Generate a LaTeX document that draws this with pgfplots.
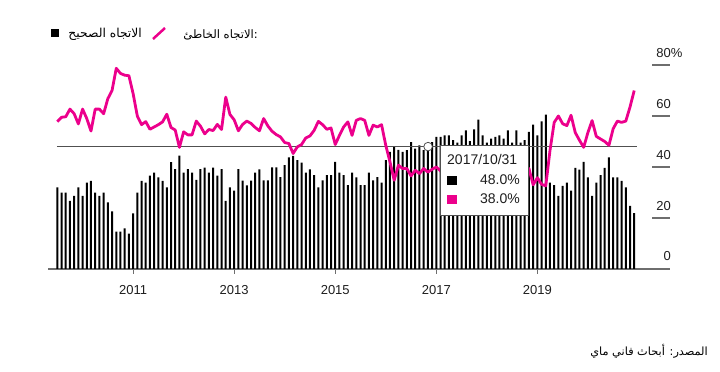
\documentclass[border=0pt]{standalone}
\usepackage{fontspec}
\setmainfont{Liberation Sans}
\newfontfamily\arabicfont[Script=Arabic]{DejaVu Sans}
\usepackage{pgfplots}
\pgfplotsset{compat=1.18}
\usepackage{pgfplotstable}
\TeXXeTstate=1
\definecolor{pinkc}{RGB}{236,0,140}
\definecolor{lgray}{RGB}{110,110,110}
\definecolor{cgray}{RGB}{80,80,80}
\definecolor{txt}{RGB}{30,30,30}

\pgfplotstableread{
i b p
0 32.0 57.8
1 30.0 59.5
2 30.0 59.7
3 26.7 62.7
4 28.7 60.9
5 32.0 56.9
6 28.7 62.7
7 33.9 59.0
8 34.6 54.1
9 30.0 62.7
10 28.7 62.7
11 30.0 60.9
12 26.1 66.8
13 22.6 70.0
14 14.7 78.7
15 14.7 76.7
16 15.9 76.0
17 13.9 75.8
18 21.8 68.8
19 30.0 60.0
20 34.6 56.6
21 33.9 57.8
22 36.6 54.8
23 37.8 55.7
24 35.9 56.6
25 34.6 57.7
26 32.0 60.7
27 41.9 55.5
28 39.2 54.5
29 44.5 47.7
30 37.8 53.8
31 39.2 52.6
32 37.8 52.6
33 35.0 58.0
34 39.2 56.0
35 39.8 53.0
36 37.8 54.7
37 39.8 54.3
38 36.6 56.7
39 39.2 54.7
40 26.7 67.4
41 32.0 60.6
42 30.7 58.5
43 39.2 54.2
44 34.7 56.7
45 32.8 58.0
46 34.7 57.1
47 37.8 55.5
48 39.1 54.2
49 34.8 59.0
50 34.8 56.1
51 39.9 54.0
52 39.9 52.7
53 36.0 51.8
54 40.7 49.6
55 43.8 49.2
56 44.4 45.3
57 42.7 47.9
58 41.7 48.8
59 37.8 51.4
60 39.1 52.2
61 36.8 54.4
62 32.0 57.9
63 34.8 56.6
64 36.8 54.8
65 36.8 55.3
66 42.0 48.8
67 37.8 52.4
68 36.8 55.7
69 32.9 57.7
70 37.8 52.4
71 35.9 58.3
72 32.9 59.0
73 32.9 58.3
74 37.8 52.4
75 34.8 56.4
76 36.0 55.7
77 33.9 56.6
78 42.7 48.5
79 45.9 42.0
80 47.8 34.8
81 46.7 40.7
82 45.9 39.4
83 46.6 39.4
84 49.8 36.5
85 47.2 38.7
86 48.5 37.4
87 46.6 39.4
88 48.0 38.0
89 49.8 39.1
90 51.8 40.0
91 51.8 38.5
92 52.4 37.0
93 52.4 39.5
94 50.5 38.0
95 49.6 36.5
96 52.4 38.5
97 54.4 40.0
98 50.1 37.5
99 54.8 36.0
100 58.6 38.0
101 52.4 39.0
102 49.6 37.0
103 51.1 35.5
104 51.8 37.5
105 52.4 38.5
106 51.1 36.0
107 54.4 34.5
108 49.6 36.5
109 54.4 38.0
110 49.6 37.0
111 50.5 38.5
112 53.8 39.4
113 56.6 33.0
114 52.4 35.8
115 57.9 33.2
116 60.5 32.6
117 33.9 46.5
118 32.9 57.5
119 28.7 60.0
120 32.6 57.0
121 33.9 56.2
122 30.7 60.3
123 39.7 53.5
124 39.0 50.5
125 42.0 47.7
126 35.9 53.5
127 28.7 58.2
128 33.9 52.0
129 36.8 51.0
130 39.7 50.0
131 43.8 48.5
132 35.9 55.0
133 35.9 58.0
134 34.6 57.5
135 32.0 58.0
136 24.8 63.5
137 21.9 70.0
}\data

\begin{document}
\begin{tikzpicture}[x=1pt,y=1pt]
\path[use as bounding box, fill=white] (0,0) rectangle (720,372);
\begin{axis}[
  at={(48pt,103pt)}, anchor=south west,
  scale only axis, width=622pt, height=204pt,
  xmin=-2.21, xmax=145.5, ymin=0, ymax=80,
  enlargelimits=false, clip=false,
  axis line style={draw=none},
  tick style={draw=none},
  xtick={18,42,66,90,114},
  xticklabels={2011,2013,2015,2017,2019},
  ytick={0,20,40,60,80},
  yticklabels={0,20,40,60,{80\rlap{\%}}},
  ytick pos=right, yticklabel pos=right,
  xtick pos=bottom,
  /pgf/number format/assume math mode=true,
  xticklabel style={anchor=base, inner sep=0pt, yshift=-26pt, font=\fontsize{13}{15}\selectfont, text=txt},
  yticklabel style={anchor=base east, inner sep=0pt, xshift=1pt, yshift=8pt, font=\fontsize{13}{15}\selectfont, text=txt},
]
\draw[lgray, line width=1.2pt] (axis cs:-2.21,0) -- (axis cs:145.5,0);
\pgfplotsinvokeforeach{20,40,60,80}{
  \draw[lgray, line width=1.2pt] (axis cs:141.3,#1) -- (axis cs:145.5,#1);
}
\pgfplotsinvokeforeach{18,42,66,90,114}{
  \draw[lgray, line width=0.8pt] (axis cs:#1,0) -- (axis cs:#1,-2);
}
\addplot[ybar, bar width=2.0pt, fill=black, draw=none] table[x=i, y=b] {\data};
\addplot[cgray, line width=1pt, mark=none] coordinates {(-0.1,48) (137.6,48)};
\addplot[pinkc, line width=2.8pt, line join=round, mark=none] table[x=i, y=p] {\data};
\addplot[only marks, mark=*, mark size=4.3pt, mark options={fill=white, draw=cgray, line width=0.8pt}] coordinates {(88.05,48)};
\end{axis}
% tooltip
\draw[fill=white, draw=cgray, line width=0.8pt] (440,156.5) rectangle (528,227);
\node[anchor=base west, inner sep=0pt, text=txt, font=\fontsize{14}{16}\selectfont] at (447,207) {2017/10/31};
\fill[black] (447.3,187) rectangle (456.7,196.3);
\node[anchor=base east, inner sep=0pt, text=txt, font=\fontsize{14}{16}\selectfont] at (520,187) {48.0\%};
\fill[pinkc] (447.3,168) rectangle (456.7,177.3);
\node[anchor=base east, inner sep=0pt, text=txt, font=\fontsize{14}{16}\selectfont] at (520,168) {38.0\%};
% legend
\fill[black] (50.7,334.7) rectangle (59.3,342.7);
\node[anchor=east, inner sep=0pt, font=\fontsize{12.3}{14}\selectfont] at (142,337.5) {\arabicfont\beginR الاتجاه الصحيح\endR};
\draw[pinkc, line width=2.5pt] (153,333) -- (165,344);
\node[anchor=east, inner sep=0pt, font=\fontsize{11.6}{14}\selectfont] at (258,337.5) {\arabicfont\beginR :الاتجاه الخاطئ\endR};
% source
\node[anchor=east, inner sep=0pt, font=\fontsize{11.3}{13}\selectfont] at (708,21) {\arabicfont\beginR المصدر: أبحاث فاني ماي\endR};
\end{tikzpicture}
\end{document}
